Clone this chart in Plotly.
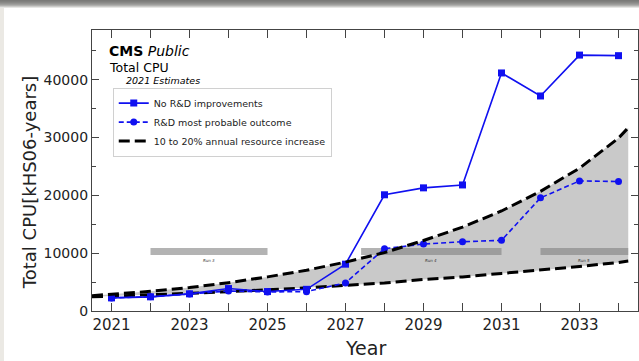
import plotly.graph_objects as go

# ---- data ----
years = [2021, 2022, 2023, 2024, 2025, 2026, 2027, 2028, 2029, 2030, 2031, 2032, 2033, 2034]
no_rd = [2270, 2450, 2970, 3880, 3360, 3750, 8100, 20100, 21300, 21800, 41170, 37190, 44260, 44160]
rd_probable = [2270, 2450, 2950, 3450, 3300, 3350, 4860, 10780, 11580, 11980, 12220, 19570, 22500, 22390]

band_years = [2020.5, 2021, 2022, 2023, 2024, 2025, 2026, 2027, 2028, 2029, 2030, 2031, 2032, 2033, 2034, 2034.25]
band_upper = [2650, 2880, 3400, 4050, 4900, 5900, 7050, 8450, 10100, 12200, 14500, 17300, 20700, 24700, 29900, 31700]
band_lower = [2450, 2560, 2800, 3060, 3350, 3660, 4000, 4450, 4850, 5450, 5900, 6500, 7050, 7700, 8400, 8650]

run_names = ["Run 3", "Run 4", "Run 5"]
run_start = [2022.0, 2027.4, 2032.0]
run_end = [2025.0, 2031.0, 2034.25]
run_low = 9700
run_high = 10900

tick_years = list(range(2021, 2035))
tick_text = [str(y) if y % 2 == 1 else "" for y in tick_years]

FONT = "DejaVu Sans"

fig = go.Figure()

# gray band between 10% and 20% growth
fig.add_trace(go.Scatter(
    x=band_years + band_years[::-1],
    y=band_upper + band_lower[::-1],
    fill="toself", fillcolor="#c9c9c9", line=dict(width=0),
    mode="lines", showlegend=False, hoverinfo="skip"))

# Run bars
for name, s, e in zip(run_names, run_start, run_end):
    fig.add_trace(go.Scatter(
        x=[s, e, e, s, s], y=[run_low, run_low, run_high, run_high, run_low],
        fill="toself", fillcolor="rgba(128,128,128,0.6)", line=dict(width=0),
        mode="lines", showlegend=False, hoverinfo="skip"))
    fig.add_annotation(x=(s + e) / 2, y=run_low, text="<i>" + name + "</i>",
                       showarrow=False, yanchor="top", yshift=-1,
                       font=dict(family=FONT, size=4, color="#333"))

# dashed band boundaries
dash_style = dict(color="black", width=3, dash="11px,5px")
fig.add_trace(go.Scatter(x=band_years, y=band_lower, mode="lines", line=dash_style,
                         showlegend=False, hoverinfo="skip"))

# series
fig.add_trace(go.Scatter(x=years, y=no_rd, mode="lines+markers", name="No R&D improvements",
                         line=dict(color="#1010f0", width=1.6),
                         marker=dict(symbol="square", size=7, color="#1010f0")))
fig.add_trace(go.Scatter(x=years, y=rd_probable, mode="lines+markers", name="R&D most probable outcome",
                         line=dict(color="#1010f0", width=1.6, dash="5px,3px"),
                         marker=dict(symbol="circle", size=7, color="#1010f0")))
fig.add_trace(go.Scatter(x=band_years, y=band_upper, mode="lines",
                         name="10 to 20% annual resource increase", line=dash_style))

# texts
fig.add_annotation(xref="paper", yref="paper", x=0.028, y=0.925, xanchor="left", yanchor="middle",
                   text="<b>CMS</b> <i>Public</i>", showarrow=False,
                   font=dict(family=FONT, size=14, color="black"))
fig.add_annotation(xref="paper", yref="paper", x=0.028, y=0.865, xanchor="left", yanchor="middle",
                   text="Total CPU", showarrow=False,
                   font=dict(family=FONT, size=12.5, color="black"))
fig.add_annotation(xref="paper", yref="paper", x=0.058, y=0.822, xanchor="left", yanchor="middle",
                   text="<i>2021 Estimates</i>", showarrow=False,
                   font=dict(family=FONT, size=9.5, color="black"))
# axis titles
fig.add_annotation(xref="paper", yref="paper", x=-0.113, y=0.456, xanchor="center", yanchor="middle",
                   text="Total CPU[kHS06-years]", textangle=-90, showarrow=False,
                   font=dict(family=FONT, size=18, color="#222"))
fig.add_annotation(xref="paper", yref="paper", x=0.5, y=-0.1744, xanchor="center", yanchor="bottom",
                   text="Year", showarrow=False, borderpad=0,
                   font=dict(family=FONT, size=19, color="#222"))

# page decoration (top shadow, left strip)
H = 281.0
def py(p):
    return (311.0 - p) / H
def px(p):
    return (p - 92) / 546.0
shades = ["#7a7a78", "#80807e", "#888886", "#929290", "#9e9e9c", "#b0b0ae", "#cacac8", "#e6e6e4"]
for i, c in enumerate(shades):
    fig.add_shape(type="rect", xref="paper", yref="paper", x0=px(0), x1=px(639),
                  y0=py(i + 1), y1=py(i), fillcolor=c, line=dict(width=0), layer="above")
fig.add_shape(type="rect", xref="paper", yref="paper", x0=px(0), x1=px(4),
              y0=py(361), y1=py(8), fillcolor="#ebe9e4", line=dict(width=0), layer="above")

axis_common = dict(showline=True, linecolor="#444", linewidth=1.2, mirror="ticks",
                   ticks="inside", tickcolor="#444", tickwidth=1, showgrid=False, zeroline=False,
                   automargin=False)

fig.update_layout(
    width=639, height=361,
    margin=dict(l=92, r=1, t=30, b=50),
    paper_bgcolor="white", plot_bgcolor="white",
    font=dict(family=FONT, color="#222"),
    showlegend=True,
    legend=dict(x=0.038, y=0.795, xanchor="left", yanchor="top",
                bgcolor="white", bordercolor="#d0d0d0", borderwidth=1,
                font=dict(family=FONT, size=9.5, color="#222"),
                tracegroupgap=0, itemwidth=30),
    xaxis=dict(range=[2020.5, 2034.5], tickmode="array", tickvals=tick_years, ticktext=tick_text,
               ticklen=8, tickfont=dict(family=FONT, size=15, color="#222"),
               **axis_common),
    yaxis=dict(range=[0, 48600], tickmode="array", tickvals=[0, 10000, 20000, 30000, 40000],
               ticktext=["0", "10000", "20000", "30000", "40000"], ticklen=7,
               tickfont=dict(family=FONT, size=14, color="#222"),
               minor=dict(dtick=5000, ticklen=4, tickcolor="#444", ticks="inside"),
               **axis_common),
)

fig.write_html("out.html", config={"displayModeBar": False},
               post_script="document.body.style.margin='0';document.body.style.overflow='hidden';")
